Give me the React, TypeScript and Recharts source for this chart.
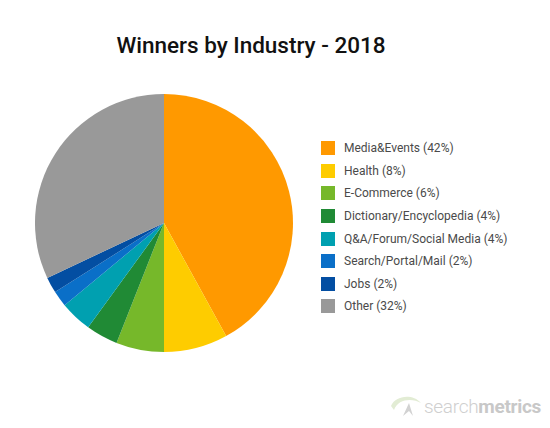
import { Cell, Legend, Pie, PieChart } from 'recharts';

const industries = [
  'Media&Events',
  'Health',
  'E-Commerce',
  'Dictionary/Encyclopedia',
  'Q&A/Forum/Social Media',
  'Search/Portal/Mail',
  'Jobs',
  'Other',
];
const shares = [42, 8, 6, 4, 4, 2, 2, 32];
const colors = ['#FF9900', '#FECC00', '#76B82A', '#208A35', '#00A0B0', '#0A6FC8', '#034EA2', '#999999'];

const data = industries.map((name, i) => ({ name, value: shares[i] }));

const font = 'Roboto, "Noto Sans", sans-serif';

function LegendList() {
  return (
    <div style={{ fontFamily: font }}>
      {data.map((d, i) => (
        <div key={d.name} style={{ display: 'flex', alignItems: 'center', height: 22.6 }}>
          <span style={{ width: 14, height: 14, background: colors[i], display: 'inline-block', marginRight: 9 }} />
          <span style={{ fontSize: 12, color: '#4a4a4a', whiteSpace: 'nowrap' }}>
            {d.name} ({d.value}%)
          </span>
        </div>
      ))}
    </div>
  );
}

export default function App() {
  return (
    <div style={{ position: 'absolute', left: 0, top: 0, width: 550, height: 428, background: '#fff' }}>
      <div
        style={{
          position: 'absolute',
          left: 0,
          width: 502,
          top: 32,
          textAlign: 'center',
          fontFamily: font,
          fontWeight: 500,
          fontSize: 22.5,
          color: '#111',
        }}
      >
        Winners by Industry - 2018
      </div>
      <PieChart width={550} height={428} margin={{ top: 0, right: 0, bottom: 0, left: 0 }}>
        <Pie
          data={data}
          dataKey="value"
          nameKey="name"
          cx={164}
          cy={223}
          outerRadius={129}
          startAngle={90}
          endAngle={-270}
          stroke="none"
          isAnimationActive={false}
        >
          {data.map((d, i) => (
            <Cell key={d.name} fill={colors[i]} />
          ))}
        </Pie>
        <Legend
          layout="vertical"
          content={<LegendList />}
          wrapperStyle={{ left: 321, top: 137, width: 220 }}
        />
      </PieChart>
      <div style={{ position: 'absolute', left: 390, top: 394, display: 'flex', alignItems: 'center', fontFamily: font }}>
        <svg width={34} height={24} viewBox="0 0 34 24">
          <path d="M1 12 C 5 2, 22 -1, 31 9 C 22 4, 8 5, 4 16 Z" fill="#e2ecd4" />
          <path d="M13 22 L 19 9 L 23 22 L 19 17 Z" fill="#d2d2d2" />
        </svg>
        <span style={{ fontSize: 19, color: '#cfcfcf', fontWeight: 300, letterSpacing: -0.3 }}>search</span>
        <span style={{ fontSize: 19, color: '#c8c8c8', fontWeight: 700, letterSpacing: -0.3 }}>metrics</span>
      </div>
    </div>
  );
}
